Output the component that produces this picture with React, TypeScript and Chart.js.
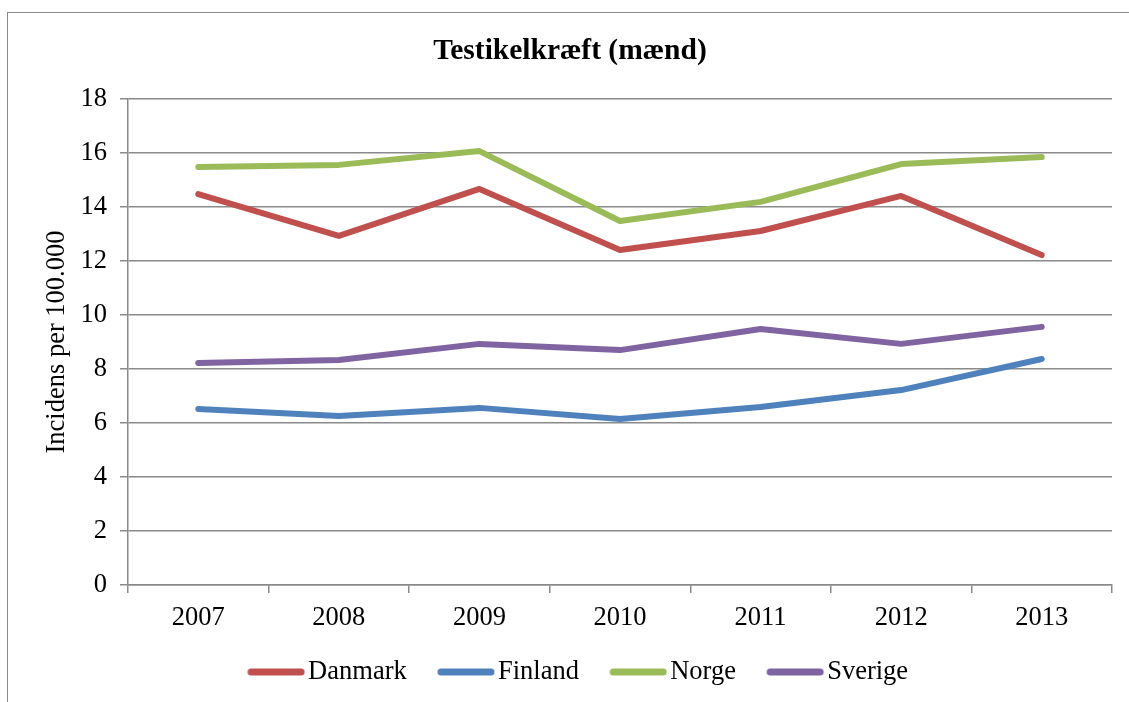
import React, { useEffect, useRef } from "react";
import { Chart, registerables } from "chart.js";

Chart.register(...registerables);

const years = ["2007", "2008", "2009", "2010", "2011", "2012", "2013"];
const danmark = [14.48, 12.93, 14.67, 12.41, 13.11, 14.41, 12.22];
const finland = [6.52, 6.26, 6.56, 6.15, 6.59, 7.22, 8.37];
const norge = [15.48, 15.56, 16.07, 13.48, 14.19, 15.59, 15.85];
const sverige = [8.22, 8.33, 8.93, 8.7, 9.48, 8.93, 9.56];
const seriesNames = ["Danmark", "Finland", "Norge", "Sverige"];
const seriesColors = ["#C0504D", "#4F81BD", "#9BBB59", "#8064A2"];
const seriesValues = [danmark, finland, norge, sverige];
const titleText = "Testikelkræft (mænd)";
const yTitle = "Incidens per 100.000";

const FONT = "'Liberation Serif', 'Times New Roman', serif";
const GRID = "#8a8a8a";
const FS = 26.5;

function legendLine(color: string) {
  const c = document.createElement("canvas");
  c.width = 84;
  c.height = 10;
  const g = c.getContext("2d")!;
  g.strokeStyle = color;
  g.lineWidth = 7;
  g.lineCap = "round";
  g.beginPath();
  g.moveTo(29.75, 5);
  g.lineTo(79.75, 5);
  g.stroke();
  return c;
}

export default function App() {
  const ref = useRef<HTMLCanvasElement>(null);
  useEffect(() => {
    const imgs = seriesColors.map(legendLine);
    const chart = new Chart(ref.current!, {
      type: "line",
      data: {
        labels: years,
        datasets: seriesNames.map((n, i) => ({
          label: n,
          data: seriesValues[i],
          borderColor: seriesColors[i],
          backgroundColor: seriesColors[i],
          borderWidth: 6,
          pointRadius: 0,
          tension: 0,
          fill: false,
          borderJoinStyle: "round" as const,
          borderCapStyle: "round" as const,
        })),
      },
      options: {
        responsive: false,
        animation: false,
        layout: { padding: { left: 28, right: 17, top: 0, bottom: 6.75 } },
        plugins: {
          tooltip: { enabled: false },
          title: {
            display: true,
            text: titleText,
            color: "#000",
            font: { family: FONT, size: 29.5, weight: "bold" },
            padding: { top: 33.2, bottom: 30.4 },
          },
          legend: {
            position: "bottom",
            labels: {
              color: "#000",
              font: { family: FONT, size: FS },
              usePointStyle: true,
              pointStyleWidth: 63,
              padding: 15,
              generateLabels: (c: any) => {
                const items = (Chart.defaults.plugins.legend.labels as any).generateLabels(c);
                return items.map((it: any, i: number) => ({ ...it, pointStyle: imgs[i] }));
              },
            },
          },
        },
        scales: {
          x: {
            type: "category",
            offset: true,
            afterFit: (s: any) => {
              s.height = 58.75;
            },
            grid: {
              offset: true,
              drawOnChartArea: false,
              drawTicks: true,
              tickLength: 8,
              color: GRID,
              lineWidth: 1.5,
            },
            border: { display: true, color: GRID, width: 1.5 },
            ticks: {
              color: "#000",
              font: { family: FONT, size: FS },
              padding: 9,
              maxRotation: 0,
            },
          },
          y: {
            min: 0,
            max: 18,
            afterFit: (s: any) => {
              s.width = 100;
            },
            ticks: {
              stepSize: 2,
              color: "#000",
              font: { family: FONT, size: FS },
              padding: 13,
            },
            grid: {
              color: GRID,
              lineWidth: 1.5,
              drawTicks: true,
              tickLength: 8,
            },
            border: { display: true, color: GRID, width: 1.5 },
            title: {
              display: true,
              text: yTitle,
              color: "#000",
              font: { family: FONT, size: FS },
              padding: { top: 13.1, bottom: 0 },
            },
          },
        },
      },
    } as any);
    return () => chart.destroy();
  }, []);
  return (
    <div style={{ position: "fixed", left: 0, top: 0, width: 1129, height: 702, background: "#fff", overflow: "hidden" }}>
      <canvas ref={ref} width={1129} height={702} style={{ position: "absolute", left: 0, top: 0 }} />
      <div
        style={{
          position: "absolute",
          left: 7,
          top: 12,
          width: 1300,
          height: 900,
          border: "1.5px solid #8a8a8a",
          pointerEvents: "none",
        }}
      />
    </div>
  );
}
